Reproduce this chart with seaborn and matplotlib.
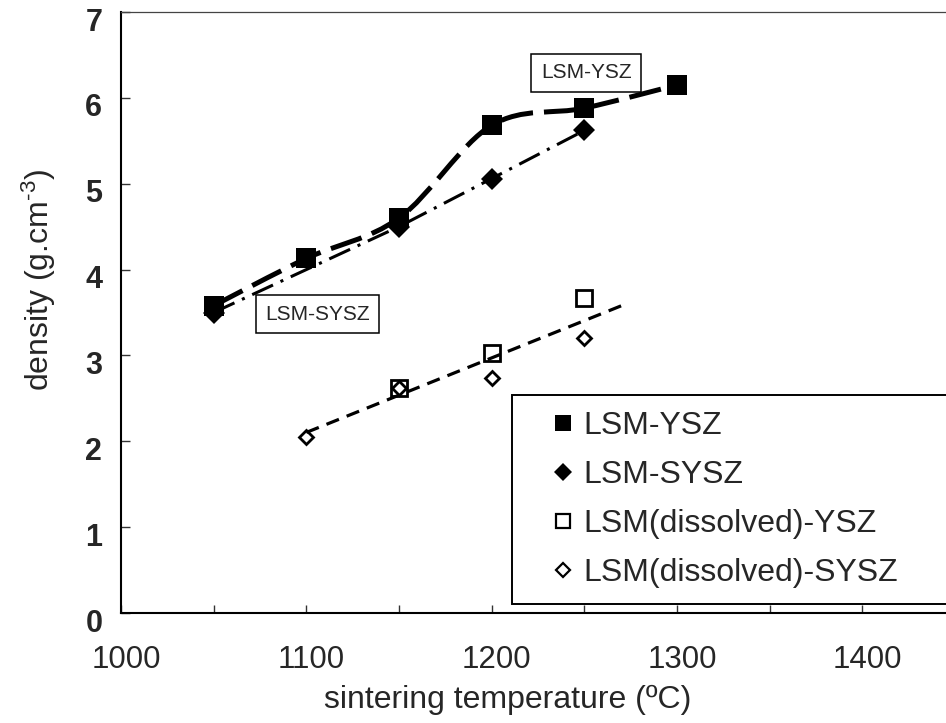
import numpy as np
import pandas as pd
import seaborn as sns
import matplotlib
matplotlib.use("Agg")
import matplotlib.pyplot as plt
from matplotlib.path import Path
from matplotlib.patches import PathPatch
from matplotlib.lines import Line2D
import matplotlib.transforms as mtransforms

# ---------------- data ----------------
temp_ysz = [1050, 1100, 1150, 1200, 1250, 1300]
dens_ysz = [3.58, 4.13, 4.60, 5.68, 5.88, 6.15]

temp_sysz = [1050, 1150, 1200, 1250]
dens_sysz = [3.50, 4.50, 5.06, 5.62]

temp_dysz = [1150, 1200, 1250]
dens_dysz = [2.62, 3.03, 3.67]

temp_dsysz = [1100, 1150, 1200, 1250]
dens_dsysz = [2.05, 2.62, 2.74, 3.20]

series_names = ["LSM-YSZ", "LSM-SYSZ", "LSM(dissolved)-YSZ", "LSM(dissolved)-SYSZ"]
x_ticks = [1000, 1100, 1200, 1300, 1400]
y_ticks = [0, 1, 2, 3, 4, 5, 6, 7]
trend_forward = 20  # trendline forecast (deg C)

# ---------------- style ----------------
sns.set_style("ticks")
plt.rcParams["font.family"] = ["Liberation Sans", "DejaVu Sans"]
plt.rcParams["mathtext.fontset"] = "custom"
plt.rcParams["mathtext.rm"] = "Liberation Sans"
plt.rcParams["mathtext.default"] = "regular"

fig = plt.figure(figsize=(9.46, 7.23), dpi=100)
W, H = 946, 723
ax = fig.add_axes([121 / W, 1 - 613 / H, 834 / W, 601 / H])

# LSM-YSZ smoothed dashed curve (Excel-like Bezier smoothing through the data)
pts = np.column_stack([temp_ysz, dens_ysz]).astype(float)
n = len(pts)
verts = [pts[0]]
codes = [Path.MOVETO]
for i in range(n - 1):
    p0 = pts[i - 1] if i > 0 else pts[i]
    p1 = pts[i]
    p2 = pts[i + 1]
    p3 = pts[i + 2] if i + 2 < n else pts[i + 1]
    verts += [p1 + (p2 - p0) / 6.0, p2 - (p3 - p1) / 6.0, p2]
    codes += [Path.CURVE4] * 3
curve = PathPatch(Path(verts, codes), fill=False, edgecolor="black",
                  linewidth=3.6, linestyle=(0, (6.5, 2.2)), capstyle="butt",
                  transform=ax.transData, zorder=2)
ax.add_patch(curve)
sns.lineplot(x=temp_ysz, y=dens_ysz, ax=ax, linestyle="", marker="s",
             markersize=15, markerfacecolor="black", markeredgecolor="black",
             markeredgewidth=0, color="black", zorder=3)

# LSM-SYSZ dash-dot line with filled diamonds
sns.lineplot(x=temp_sysz, y=dens_sysz, ax=ax, color="black", linewidth=2.2,
             linestyle=(0, (7.5, 2.7, 1.0, 2.7)), marker="D", markersize=11.5,
             markerfacecolor="black", markeredgecolor="black",
             markeredgewidth=0, zorder=4)

# dissolved series: hollow markers
sns.lineplot(x=temp_dysz, y=dens_dysz, ax=ax, linestyle="", marker="s",
             markersize=11, markerfacecolor="none", markeredgecolor="black",
             markeredgewidth=2.0, color="black", zorder=5)
sns.lineplot(x=temp_dsysz, y=dens_dsysz, ax=ax, linestyle="", marker="D",
             markersize=7.5, markerfacecolor="none", markeredgecolor="black",
             markeredgewidth=2.0, color="black", zorder=5)

# linear trendline through all dissolved points
tx = np.array(temp_dysz + temp_dsysz, dtype=float)
ty = np.array(dens_dysz + dens_dsysz, dtype=float)
coef = np.polyfit(tx, ty, 1)
trend_x = np.array([tx.min(), tx.max() + trend_forward])
sns.lineplot(x=trend_x, y=np.polyval(coef, trend_x), ax=ax, color="black",
             linewidth=2.3, linestyle=(0, (4.2, 2.6)), zorder=6)

# text boxes
box = dict(boxstyle="square,pad=0.45", facecolor="white", edgecolor="black", linewidth=1.1)
ax.text(1251, 6.29, "LSM-YSZ", ha="center", va="center", fontsize=15, bbox=box, zorder=10)
ax.text(1106, 3.48, "LSM-SYSZ", ha="center", va="center", fontsize=15, bbox=box, zorder=10)

# axes
ax.set_xlim(1000, 1450)
ax.set_ylim(0, 7)
ax.set_xticks(x_ticks)
ax.set_xticks([t + 50 for t in x_ticks], minor=True)
ax.set_yticks(y_ticks)
ax.tick_params(axis="both", which="both", direction="in", color="#333333")
ax.tick_params(axis="x", which="both", length=6, width=1.0, pad=23, labelsize=22.5)
ax.tick_params(axis="y", which="both", length=6.5, width=1.0, pad=13.5, labelsize=22)
for lab in ax.get_yticklabels():
    lab.set_fontweight("bold")
for side in ["left", "bottom"]:
    ax.spines[side].set_linewidth(1.5)
    ax.spines[side].set_color("black")
for side in ["top", "right"]:
    ax.spines[side].set_linewidth(0.9)
    ax.spines[side].set_color("#444444")

xoff = mtransforms.ScaledTranslation(0.05, 0, fig.dpi_scale_trans)
yoff = mtransforms.ScaledTranslation(0, -0.07, fig.dpi_scale_trans)
for lab in ax.get_xticklabels():
    lab.set_transform(lab.get_transform() + xoff)
for lab in ax.get_yticklabels():
    lab.set_transform(lab.get_transform() + yoff)

ax.set_xlabel("sintering temperature (ºC)", fontsize=23, va="center")
ax.xaxis.set_label_coords(0.464, -0.1448)
ax.set_ylabel(r"density (g.cm$^{\text{-}3}$)", fontsize=23, va="center")
ax.yaxis.set_label_coords(-0.098, 0.554)

# legend (markers only)
handles = [
    Line2D([], [], linestyle="", marker="s", markersize=12, markerfacecolor="black",
           markeredgecolor="black", markeredgewidth=0),
    Line2D([], [], linestyle="", marker="D", markersize=9, markerfacecolor="black",
           markeredgecolor="black", markeredgewidth=0),
    Line2D([], [], linestyle="", marker="s", markersize=10.5, markerfacecolor="none",
           markeredgecolor="black", markeredgewidth=1.6),
    Line2D([], [], linestyle="", marker="D", markersize=7.5, markerfacecolor="none",
           markeredgecolor="black", markeredgewidth=1.6),
]
leg = ax.legend(handles, series_names, loc="upper left",
                bbox_to_anchor=((512 - 121) / 834, (613 - 395) / 601, 0.5312, 0),
                mode="expand", borderaxespad=0, fontsize=23, frameon=True,
                fancybox=False, framealpha=1, edgecolor="black", borderpad=0.5,
                handlelength=2.22, handletextpad=-0.49, labelspacing=0.6)
leg.get_frame().set_linewidth(1.4)
leg.set_zorder(20)

fig.savefig("out.png", dpi=100)
